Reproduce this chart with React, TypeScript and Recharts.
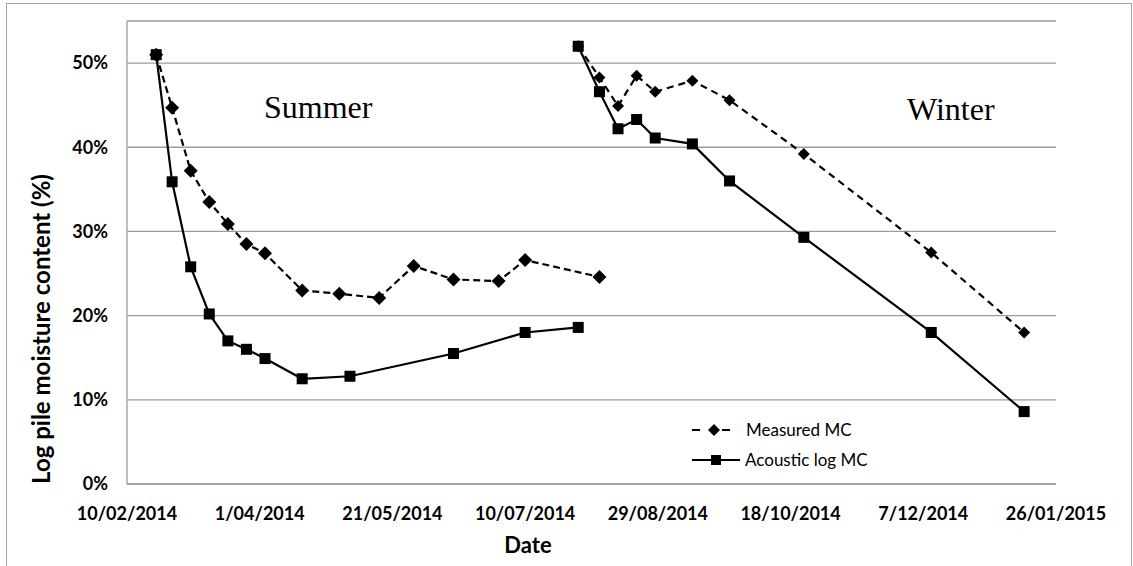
import React from 'react';
import { LineChart, Line, XAxis, YAxis, CartesianGrid, Customized } from 'recharts';

// axis
const tickDates = ['10/02/2014', '1/04/2014', '21/05/2014', '10/07/2014', '29/08/2014', '18/10/2014', '7/12/2014', '26/01/2015'];
const percentTicks = [0, 10, 20, 30, 40, 50];

// summer pile
const summerMeasuredDates = ['21/02/2014', '27/02/2014', '6/03/2014', '13/03/2014', '20/03/2014', '27/03/2014', '3/04/2014', '17/04/2014', '1/05/2014', '16/05/2014', '29/05/2014', '13/06/2014', '30/06/2014', '10/07/2014', '7/08/2014'];
const summerMeasuredMC = [51.0, 44.7, 37.2, 33.5, 30.9, 28.5, 27.4, 23.0, 22.6, 22.1, 25.9, 24.3, 24.1, 26.6, 24.6];
const summerAcousticDates = ['21/02/2014', '27/02/2014', '6/03/2014', '13/03/2014', '20/03/2014', '27/03/2014', '3/04/2014', '17/04/2014', '5/05/2014', '13/06/2014', '10/07/2014', '30/07/2014'];
const summerAcousticMC = [51.0, 35.9, 25.8, 20.2, 17.0, 16.0, 14.9, 12.5, 12.8, 15.5, 18.0, 18.6];

// winter pile
const winterDates = ['30/07/2014', '7/08/2014', '14/08/2014', '21/08/2014', '28/08/2014', '11/09/2014', '25/09/2014', '23/10/2014', '10/12/2014', '14/01/2015'];
const winterMeasuredMC = [52.0, 48.3, 44.9, 48.5, 46.6, 47.9, 45.6, 39.2, 27.5, 18.0];
const winterAcousticMC = [52.0, 46.6, 42.2, 43.3, 41.1, 40.4, 36.0, 29.3, 18.0, 8.6];

const toTime = (s: string) => {
  const [d, m, y] = s.split('/').map(Number);
  return Date.UTC(y, m - 1, d);
};
const pair = (dates: string[], values: number[]) => dates.map((s, i) => ({ t: toTime(s), mc: values[i] }));

const summerMeasured = pair(summerMeasuredDates, summerMeasuredMC);
const summerAcoustic = pair(summerAcousticDates, summerAcousticMC);
const winterMeasured = pair(winterDates, winterMeasuredMC);
const winterAcoustic = pair(winterDates, winterAcousticMC);

const xTicks = tickDates.map(toTime);
const tickLabel = (v: number) => tickDates[xTicks.indexOf(v)] ?? '';

const FONT = 'Lato, "Open Sans", sans-serif';
const GREY = '#9c9c9c';

const diamond = (r: number) => (props: any) => {
  const { cx, cy, index } = props;
  if (cx == null || cy == null) return <g key={index} />;
  return <polygon key={index} points={`${cx},${cy - r} ${cx + r},${cy} ${cx},${cy + r} ${cx - r},${cy}`} fill="#000" />;
};

const square = (r: number) => (props: any) => {
  const { cx, cy, index } = props;
  if (cx == null || cy == null) return <g key={index} />;
  return <rect key={index} x={cx - r} y={cy - r} width={r * 2} height={r * 2} fill="#000" />;
};

const Annotations = () => (
  <g>
    <text x={264} y={118} fontFamily='"Liberation Serif", serif' fontSize={32} fill="#000">Summer</text>
    <text x={907} y={120} fontFamily='"Liberation Serif", serif' fontSize={32} fill="#000">Winter</text>
    <text x={528} y={553} textAnchor="middle" fontFamily={FONT} fontWeight="bold" fontSize={22} fill="#000">Date</text>
    <text x={50} y={329} textAnchor="middle" transform="rotate(-90 50 329)" fontFamily={FONT} fontWeight="bold" fontSize={24} fill="#000">
      Log pile moisture content (%)
    </text>
    {/* legend */}
    <g>
      <line x1={692} y1={430} x2={700} y2={430} stroke="#000" strokeWidth={2} />
      <line x1={722} y1={430} x2={730} y2={430} stroke="#000" strokeWidth={2} />
      <polygon points="714,424 720,430 714,436 708,430" fill="#000" />
      <text x={746} y={436} fontFamily={FONT} fontSize={17} fill="#000">Measured MC</text>
      <line x1={692} y1={460} x2={740} y2={460} stroke="#000" strokeWidth={2} />
      <rect x={711} y={455} width={10} height={10} fill="#000" />
      <text x={745} y={466} fontFamily={FONT} fontSize={17} fill="#000">Acoustic log MC</text>
    </g>
  </g>
);

export default function App() {
  return (
    <div style={{ position: 'absolute', left: 0, top: 0, width: 1133, height: 566, overflow: 'hidden', background: '#fff' }}>
      <div style={{ position: 'absolute', left: 6, top: 3, width: 1126, height: 620, border: '1px solid #a6a6a6', boxSizing: 'border-box' }} />
      <div style={{ position: 'absolute', left: 0, top: 0 }}>
        <LineChart width={1133} height={566} margin={{ top: 21, right: 77, left: 67, bottom: 52 }}>
          <CartesianGrid vertical={false} stroke={GREY} strokeWidth={1.3} />
          <XAxis
            dataKey="t"
            type="number"
            domain={[xTicks[0], xTicks[xTicks.length - 1]]}
            ticks={xTicks}
            tickFormatter={tickLabel}
            allowDataOverflow
            height={30}
            tickLine={false}
            tickSize={0}
            tickMargin={23}
            axisLine={{ stroke: GREY, strokeWidth: 1.3 }}
            tick={{ fill: '#000', fontFamily: FONT, fontWeight: 'bold', fontSize: 18 }}
            interval={0}
          />
          <YAxis
            type="number"
            domain={[0, 55]}
            ticks={percentTicks}
            tickFormatter={(v: number) => `${v}%`}
            width={60}
            tickLine={false}
            tickSize={0}
            tickMargin={19}
            axisLine={{ stroke: GREY, strokeWidth: 1.3 }}
            tick={{ fill: '#000', fontFamily: FONT, fontWeight: 'bold', fontSize: 18 }}
            interval={0}
          />
          <Line data={summerMeasured} dataKey="mc" stroke="#000" strokeWidth={2.2} strokeDasharray="7 4" dot={diamond(7)} activeDot={false} isAnimationActive={false} />
          <Line data={summerAcoustic} dataKey="mc" stroke="#000" strokeWidth={2.2} dot={square(5.5)} activeDot={false} isAnimationActive={false} />
          <Line data={winterMeasured} dataKey="mc" stroke="#000" strokeWidth={2.2} strokeDasharray="7 5" dot={diamond(6)} activeDot={false} isAnimationActive={false} />
          <Line data={winterAcoustic} dataKey="mc" stroke="#000" strokeWidth={2.2} dot={square(5.5)} activeDot={false} isAnimationActive={false} />
          <Customized component={Annotations} />
        </LineChart>
      </div>
    </div>
  );
}
